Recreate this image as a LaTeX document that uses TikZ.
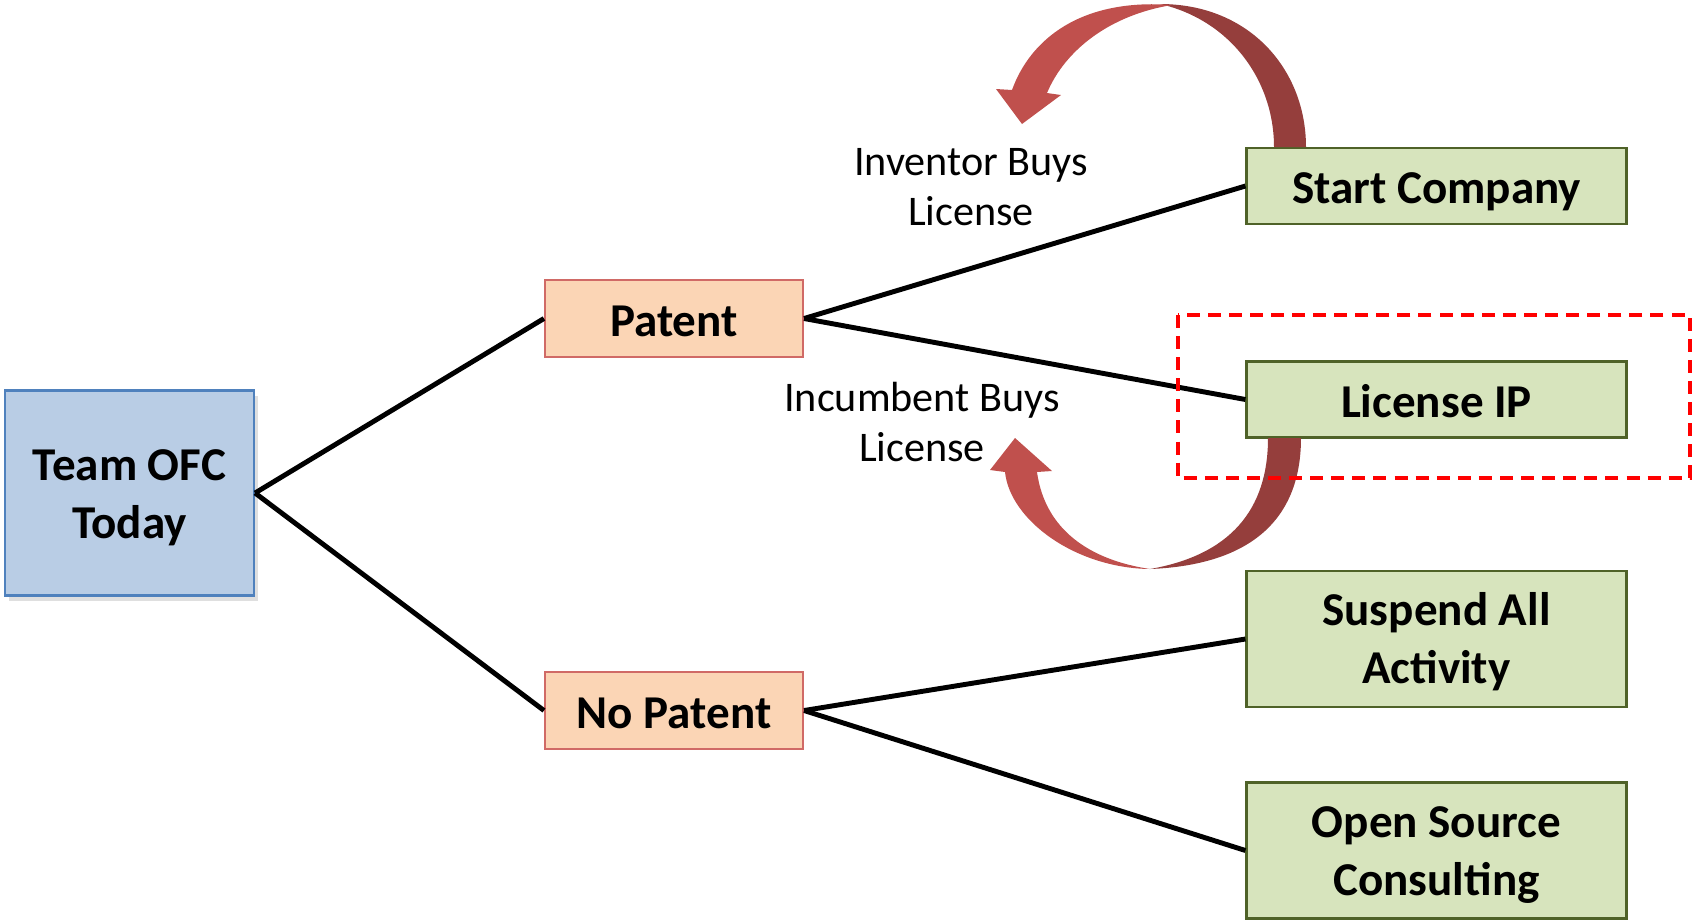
\documentclass[tikz,border=0pt]{standalone}
\usepackage{fontspec}
\setmainfont{Carlito}
\usetikzlibrary{shadows}

\definecolor{teamfill}{HTML}{B9CDE5}
\definecolor{teamedge}{HTML}{4F81BD}
\definecolor{patentfill}{HTML}{FBD5B5}
\definecolor{patentedge}{HTML}{D06A66}
\definecolor{optfill}{HTML}{D7E4BD}
\definecolor{optedge}{HTML}{4F6228}
\definecolor{arrowlight}{HTML}{C0504D}
\definecolor{arrowdark}{HTML}{953E3C}

\begin{document}
\begin{tikzpicture}[x=0.1mm,y=-0.1mm,
  box/.style={draw,line width=0.6pt,inner sep=0pt,align=center,
    execute at begin node={\rule[-2.7pt]{0pt}{15.6pt}},
    font=\fontsize{13.4}{16.5}\selectfont\bfseries},
  twoline/.style={text height=25.5pt,text depth=0pt},
  teambox/.style={box,twoline,text height=26pt,fill=teamfill,draw=teamedge,
    minimum width=24.9mm,minimum height=20.5mm,
    drop shadow={opacity=0.25,shadow xshift=0.4mm,shadow yshift=-0.5mm}},
  patentbox/.style={box,fill=patentfill,draw=patentedge,minimum width=25.8mm,minimum height=7.7mm},
  optbox/.style={box,fill=optfill,draw=optedge,minimum width=38mm,minimum height=7.6mm},
  tallbox/.style={optbox,twoline,minimum height=13.6mm},
  buylabel/.style={align=center,font=\fontsize{12}{14.2}\selectfont},
  link/.style={line width=1.4pt,black}]
  \useasboundingbox (0,0) rectangle (1692,919);

  \node[teambox] (team) at (129.5,493) {Team OFC\\Today};
  \node[patentbox] (patent) at (674,318.5) {Patent};
  \node[patentbox] (nopatent) at (674,710.5) {No Patent};
  %
  \node[optbox] (start) at (1436.5,186) {Start Company};
  \node[optbox] (license) at (1436.5,399.5) {License IP};
  \node[tallbox] (suspend) at (1436.5,639) {Suspend All\\Activity};
  \node[tallbox] (opensrc) at (1436.5,850.5) {Open Source\\Consulting};
  %
  \node[buylabel] (inventor) at (971,187) {Inventor Buys\\License};
  \node[buylabel] (incumbent) at (922,422) {Incumbent Buys\\License};

  \draw[link] (team.east) -- (patent.west);
  \draw[link] (team.east) -- (nopatent.west);
  \draw[link] (patent.east) -- (start.west);
  \draw[link] (patent.east) -- (license.west);
  \draw[link] (nopatent.east) -- (suspend.west);
  \draw[link] (nopatent.east) -- (opensrc.west);

  %%%%%%%%%%%%%%%%%%%%%
  % curved arrow over the top
  \fill[arrowdark] (1160,4) .. controls (1250,4) and (1306,70) .. (1306,147)
    -- (1274,147) .. controls (1274,80) and (1230,20) .. cycle;
  \fill[arrowlight] (1172,5) .. controls (1080,-2) and (1030,40) .. (1012,90)
    -- (996,89) -- (1022,124) -- (1061,95) -- (1047,93)
    .. controls (1065,50) and (1110,15) .. cycle;
  %%%%%%%%%%%%%%%%%%%%%
  % curved arrow underneath
  \fill[arrowdark] (1150,569) .. controls (1250,565) and (1301,520) .. (1301,438)
    -- (1268,438) .. controls (1268,510) and (1230,555) .. cycle;
  \fill[arrowlight] (1150,569) .. controls (1075,568) and (1010,520) .. (1005,472)
    -- (990,470) -- (1015,438) -- (1052,471) -- (1037,472)
    .. controls (1045,530) and (1090,560) .. cycle;

  \draw[red,line width=1pt,dash pattern=on 3.7pt off 2.3pt] (1178,315) rectangle (1690,478);
\end{tikzpicture}
\end{document}
